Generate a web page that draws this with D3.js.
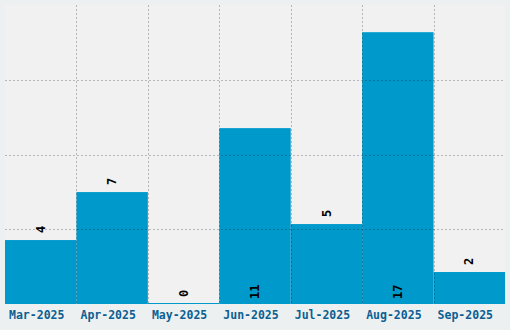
<!DOCTYPE html>
<html>
<head>
<meta charset="utf-8">
<script src="https://cdn.jsdelivr.net/npm/d3@7"></script>
<style>
  html, body { margin: 0; padding: 0; background: #edf0f1; }
  svg { display: block; }
</style>
</head>
<body>
<svg id="chart" width="510" height="330"></svg>
<script>
const categories = ["Mar-2025", "Apr-2025", "May-2025", "Jun-2025", "Jul-2025", "Aug-2025", "Sep-2025"];
const values = [4, 7, 0, 11, 5, 17, 2];

const W = 510, H = 330;
const margin = { top: 5, right: 5, bottom: 26, left: 5 };
const iw = W - margin.left - margin.right;
const ih = H - margin.top - margin.bottom;

const svg = d3.select("#chart");
svg.append("rect").attr("width", W).attr("height", H).attr("fill", "#edf0f1");

const g = svg.append("g").attr("transform", `translate(${margin.left},${margin.top})`);
g.append("rect").attr("width", iw).attr("height", ih).attr("fill", "#f1f1f1");

const x = d3.scaleBand().domain(categories).range([0, iw]).padding(0);
const yMax = d3.max(values) * 1.1;
const y = d3.scaleLinear().domain([0, yMax]).range([ih, 0]);

// bars
g.selectAll("rect.bar").data(values).join("rect")
  .attr("class", "bar")
  .attr("x", (d, i) => x(categories[i]))
  .attr("width", x.bandwidth())
  .attr("y", d => Math.min(y(d), ih - 1))
  .attr("height", d => Math.max(ih - y(d), 1))
  .attr("fill", "#0099cb");

// grid lines (on top of bars)
const gridTicks = [0.25, 0.5, 0.75].map(f => yMax * f);
g.selectAll("line.hgrid").data(gridTicks).join("line")
  .attr("class", "hgrid")
  .attr("x1", 0).attr("x2", iw)
  .attr("y1", d => Math.round(y(d)) + 0.5).attr("y2", d => Math.round(y(d)) + 0.5)
  .attr("stroke", "#000").attr("stroke-opacity", 0.24)
  .attr("stroke-dasharray", "2,2");

const vEdges = categories.slice(1).map(c => x(c));
g.selectAll("line.vgrid").data(vEdges).join("line")
  .attr("class", "vgrid")
  .attr("x1", d => Math.round(d) + 0.5).attr("x2", d => Math.round(d) + 0.5)
  .attr("y1", 0).attr("y2", ih)
  .attr("stroke", "#000").attr("stroke-opacity", 0.24)
  .attr("stroke-dasharray", "2,2");

// value labels
g.selectAll("text.val").data(values).join("text")
  .attr("class", "val")
  .attr("transform", (d, i) => {
    const cx = x(categories[i]) + x.bandwidth() / 2;
    const inside = (ih - y(d)) > ih * 0.5;
    const yy = inside ? ih - 5 : y(d) - 7;
    return `translate(${cx},${yy}) rotate(-90)`;
  })
  .attr("dy", "0.35em")
  .attr("text-anchor", "start")
  .attr("font-family", "DejaVu Sans Mono, monospace")
  .attr("font-weight", "bold")
  .attr("font-size", "12px")
  .attr("fill", "#000")
  .text(d => d);

// x axis labels
const xAxis = g.append("g").attr("transform", `translate(0,${ih})`)
  .call(d3.axisBottom(x).tickSize(0).tickPadding(7));
xAxis.select(".domain").remove();
xAxis.selectAll("text")
  .attr("dx", "-4")
  .attr("font-family", "DejaVu Sans Mono, monospace")
  .attr("font-weight", "bold")
  .attr("font-size", "11.5px")
  .attr("fill", "#0b5f92");
</script>
</body>
</html>
